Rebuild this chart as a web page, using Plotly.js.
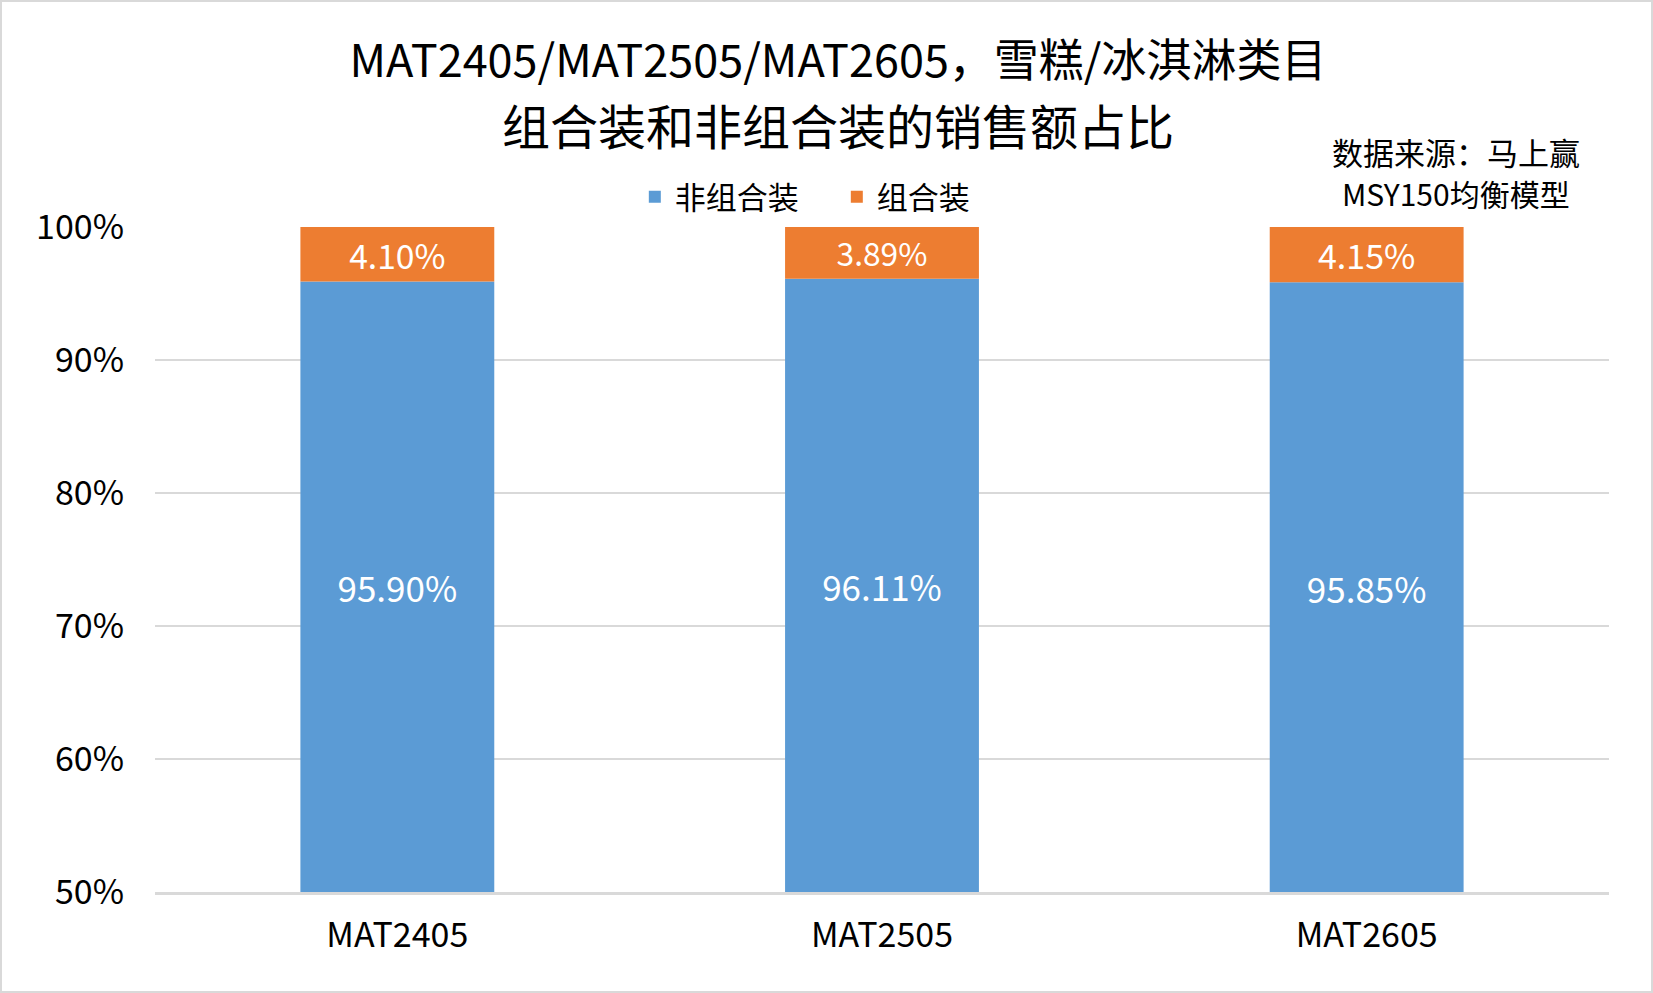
<!DOCTYPE html>
<html>
<head>
<meta charset="utf-8">
<script src="https://cdn.plot.ly/plotly-3.0.1.min.js"></script>
<style>
html,body{margin:0;padding:0;background:#fff;}
#chart{width:1653px;height:993px;box-sizing:border-box;border:2px solid #d9d9d9;}
</style>
</head>
<body>
<div id="chart"></div>
<script>
const categories = ['MAT2405', 'MAT2505', 'MAT2605'];
const nonComboShare = [95.90, 96.11, 95.85];
const comboShare = [4.10, 3.89, 4.15];
const seriesNames = ['非组合装', '组合装'];
const axisMin = 50;
const yTickVals = [50, 60, 70, 80, 90, 100];
const yTickText = ['50%', '60%', '70%', '80%', '90%', '100%'];

const FONT = '"Noto Sans CJK SC", "Noto Sans", sans-serif';
const fmt = v => v.toFixed(2) + '%';

const traces = [
  {
    type: 'bar', name: seriesNames[0], x: categories,
    y: nonComboShare.map(v => v - axisMin), base: nonComboShare.map(() => axisMin),
    marker: {color: '#5B9BD5'},
    text: nonComboShare.map(fmt), textposition: 'inside', insidetextanchor: 'middle',
    textfont: {color: '#ffffff', size: 35, family: FONT},
    hoverinfo: 'skip'
  },
  {
    type: 'bar', name: seriesNames[1], x: categories,
    y: comboShare, base: nonComboShare,
    marker: {color: '#ED7D31'},
    text: comboShare.map(fmt), textposition: 'inside', insidetextanchor: 'middle',
    textfont: {color: '#ffffff', size: 34, family: FONT},
    hoverinfo: 'skip'
  }
];

const layout = {
  width: 1649, height: 989,
  margin: {l: 153, r: 42, t: 225, b: 99},
  paper_bgcolor: '#ffffff', plot_bgcolor: '#ffffff',
  font: {family: FONT, color: '#000000'},
  barmode: 'overlay', bargap: 0.6,
  showlegend: true,
  legend: {orientation: 'h', x: 0.33, xanchor: 'left', y: 1.045, yanchor: 'middle',
           traceorder: 'normal', font: {size: 31, family: FONT}, itemwidth: 30,
           entrywidth: 157, entrywidthmode: 'pixels'},
  title: {text: 'MAT2405/MAT2505/MAT2605，雪糕/冰淇淋类目', x: 0.507, xanchor: 'center',
          y: 0.94, yanchor: 'middle', yref: 'container', font: {size: 45, family: FONT}},
  xaxis: {type: 'category', showgrid: false, showline: true, linecolor: '#d9d9d9', linewidth: 3,
          ticks: '', tickfont: {size: 34, family: FONT}, ticklabelstandoff: 11},
  yaxis: {range: [50, 100], tickvals: yTickVals, ticktext: yTickText, showgrid: true,
          gridcolor: '#d9d9d9', gridwidth: 2, zeroline: false, showline: false, ticks: '',
          tickfont: {size: 34, family: FONT}, ticklabelstandoff: 30},
  annotations: [
    {text: '组合装和非组合装的销售额占比', xref: 'paper', yref: 'paper', x: 0.47, y: 1.155,
     xanchor: 'center', yanchor: 'middle', showarrow: false, font: {size: 48, family: FONT}},
    {text: '数据来源：马上赢', xref: 'paper', yref: 'paper', x: 0.895, y: 1.114,
     xanchor: 'center', yanchor: 'middle', showarrow: false, font: {size: 31, family: FONT}},
    {text: 'MSY150均衡模型', xref: 'paper', yref: 'paper', x: 0.895, y: 1.051,
     xanchor: 'center', yanchor: 'middle', showarrow: false, font: {size: 30, family: FONT}}
  ]
};

Plotly.newPlot('chart', traces, layout, {displayModeBar: false, staticPlot: true});
</script>
</body>
</html>
